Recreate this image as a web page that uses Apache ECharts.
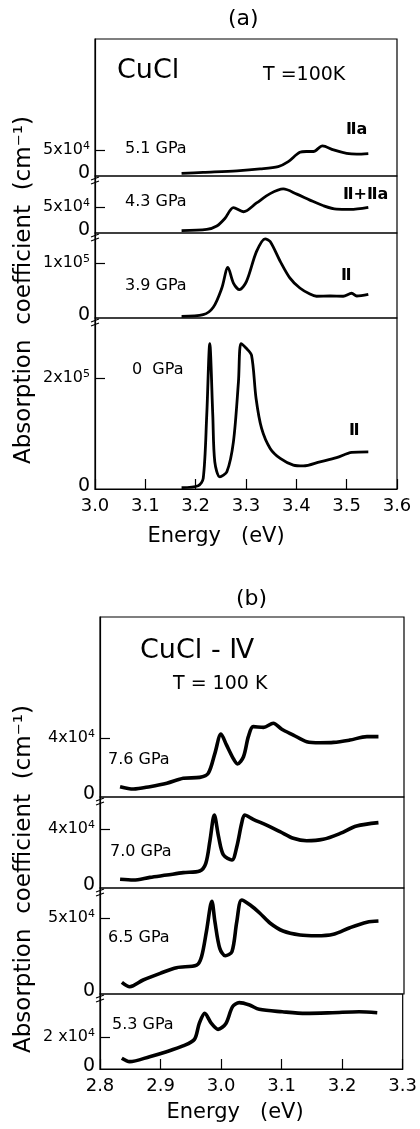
<!DOCTYPE html>
<html><head><meta charset="utf-8">
<script src="https://cdn.jsdelivr.net/npm/echarts@6/dist/echarts.min.js"></script>
<style>html,body{margin:0;padding:0;background:#fff}#c{width:420px;height:1129px}</style>
</head><body><div id="c"></div>
<script>
// ---- data (absorption coefficient in units of 10^4 cm^-1, energy in eV) ----
const E_51 = [3.172,3.215,3.282,3.328,3.364,3.384,3.407,3.420,3.434,3.452,3.474,3.500,3.520,3.543];
const A_51 = [0.5,0.7,1.0,1.35,1.8,2.75,4.55,4.7,4.7,5.8,5.0,4.35,4.2,4.3];
const E_43 = [3.172,3.222,3.242,3.258,3.275,3.295,3.321,3.348,3.374,3.401,3.427,3.454,3.480,3.507,3.543];
const A_43 = [0.45,0.7,1.35,2.8,4.9,4.1,5.8,7.6,8.5,7.5,6.35,5.25,4.6,4.55,4.95];
const E_39 = [3.172,3.215,3.235,3.252,3.264,3.275,3.287,3.301,3.321,3.338,3.348,3.368,3.387,3.407,3.427,3.440,3.467,3.493,3.510,3.520,3.543];
const A_39 = [0.3,0.6,1.95,5.45,9.2,6.35,5.15,6.65,12.1,14.4,13.9,10.3,7.3,5.45,4.35,3.95,4.0,3.95,4.5,4.0,4.3];
const E_0 = [3.172,3.205,3.215,3.222,3.228,3.234,3.238,3.248,3.262,3.275,3.285,3.290,3.300,3.311,3.320,3.331,3.348,3.368,3.394,3.414,3.447,3.480,3.510,3.543];
const A_0 = [0.25,0.6,1.9,13.3,26.2,13.3,4.9,2.2,3.1,8.5,19.3,26.2,25.4,24.1,16.3,10.9,7.3,5.5,4.3,4.15,4.9,5.65,6.6,6.7];

const E_76 = [2.833,2.855,2.882,2.910,2.937,2.964,2.978,2.989,2.999,3.008,3.019,3.026,3.036,3.044,3.052,3.069,3.085,3.099,3.118,3.140,3.162,3.184,3.211,3.239,3.258];
const A_76 = [0.7,0.54,0.7,0.93,1.27,1.33,1.6,2.96,4.27,3.53,2.62,2.24,2.73,4.09,4.77,4.72,5.0,4.59,4.2,3.75,3.68,3.7,3.86,4.09,4.09];
const E_70 = [2.833,2.855,2.882,2.910,2.937,2.964,2.974,2.981,2.988,2.995,3.003,3.017,3.025,3.033,3.038,3.052,3.074,3.096,3.118,3.140,3.167,3.195,3.222,3.258];
const A_70 = [0.59,0.54,0.72,0.88,1.04,1.15,1.67,3.25,4.95,3.48,2.24,1.9,2.8,4.39,4.95,4.66,4.27,3.82,3.37,3.2,3.3,3.7,4.2,4.43];
const E_65 = [2.836,2.849,2.871,2.899,2.926,2.959,2.967,2.975,2.984,2.989,2.997,3.006,3.017,3.025,3.033,3.047,3.063,3.080,3.101,3.129,3.156,3.184,3.211,3.239,3.258];
const A_65 = [0.77,0.48,0.92,1.36,1.73,1.9,2.45,4.1,6.1,4.76,3.0,2.52,2.78,4.76,6.18,5.85,5.31,4.65,4.14,3.88,3.83,3.93,4.36,4.72,4.8];
const E_53 = [2.836,2.849,2.882,2.910,2.937,2.956,2.964,2.973,2.984,2.995,3.008,3.019,3.030,3.047,3.063,3.101,3.140,3.184,3.228,3.258];
const A_53 = [0.67,0.46,0.77,1.08,1.44,1.85,2.85,3.48,2.85,2.48,2.85,3.9,4.15,4.0,3.73,3.58,3.48,3.52,3.58,3.52];

const pressures = ['5.1 GPa','4.3 GPa','3.9 GPa','0  GPa','7.6 GPa','7.0 GPa','6.5 GPa','5.3 GPa'];
const phases = ['Ⅱa','Ⅱ+Ⅱa','Ⅱ','Ⅱ','','','',''];
const yTick = [5,5,10,20,4,4,5,2];
const yTickText = ['{n|5x10}{s|4}','{n|5x10}{s|4}','{n|1x10}{s|5}','{n|2x10}{s|5}','{n|4x10}{s|4}','{n|4x10}{s|4}','{n|5x10}{s|4}','{n|2 x10}{s|4}'];
const yMax = [26.3,11.0,15.45,30.8,12.2,6.17,6.97,4.69];
const xRangeA = [3.0,3.6], xRangeB = [2.8,3.3];

// ---- layout ----
const layout = [
  {left:95, width:302, top:39,  height:137, x:xRangeA, last:false, px:[125,150], ph:[358,131]},
  {left:95, width:302, top:176, height:57,  x:xRangeA, last:false, px:[125,203], ph:[355,196]},
  {left:95, width:302, top:233, height:85,  x:xRangeA, last:false, px:[125,287], ph:[353,277]},
  {left:95, width:302, top:318, height:171, x:xRangeA, last:true,  px:[132,371], ph:[361,432]},
  {left:100,width:304, top:617, height:180, x:xRangeB, last:false, px:[108,761]},
  {left:100,width:304, top:797, height:91,  x:xRangeB, last:false, px:[110,853]},
  {left:100,width:304, top:888, height:106, x:xRangeB, last:false, px:[108,939]},
  {left:100,width:304, top:994, height:75,  x:xRangeB, last:true,  px:[112,1026]}
];
const seriesE = [E_51,E_43,E_39,E_0,E_76,E_70,E_65,E_53];
const seriesA = [A_51,A_43,A_39,A_0,A_76,A_70,A_65,A_53];

const FONT = '"DejaVu Sans", sans-serif';
const grid=[], xAxis=[], yAxis=[], series=[], graphic=[];
layout.forEach((L,i)=>{
  grid.push({left:L.left, width:L.width, top:L.top, height:L.height, show:true, borderColor:'#000', borderWidth:1.2, backgroundColor:'transparent'});
  xAxis.push({type:'value', gridIndex:i, min:L.x[0], max:L.x[1], interval:0.1,
    axisLine:{show:L.last, lineStyle:{color:'#000', width:1.2}},
    axisTick:{show:L.last, inside:true, length:10, lineStyle:{color:'#000', width:1.2}},
    axisLabel:{show:L.last, color:'#000', fontSize:18, fontFamily:FONT, margin:8, formatter:v=>v.toFixed(1)},
    splitLine:{show:false}});
  yAxis.push({type:'value', gridIndex:i, min:0, max:yMax[i],
    axisLine:{show:true, lineStyle:{color:'#000', width:1.2}},
    axisTick:{show:true, inside:true, length:10, customValues:[yTick[i]], lineStyle:{color:'#000', width:1.2}},
    axisLabel:{show:true, customValues:[0, yTick[i]], margin:5, color:'#000', fontSize:16, fontFamily:FONT,
      formatter:v=> v===0 ? '{z|0}' : yTickText[i],
      rich:{n:{fontSize:16, fontFamily:FONT, color:'#000'},
            s:{fontSize:11, fontFamily:FONT, color:'#000', verticalAlign:'top', padding:[0,0,7,0]},
            z:{fontSize:19, fontFamily:FONT, color:'#000', padding:[0,0,6,0]}}},
    splitLine:{show:false}});
  series.push({type:'line', xAxisIndex:i, yAxisIndex:i, showSymbol:false, smooth:0.3, silent:true,
    lineStyle:{color:'#000', width: i<4 ? 2.8 : 3.6}, data: seriesE[i].map((e,k)=>[e, seriesA[i][k]])});
  graphic.push({type:'text', left:L.px[0], top:L.px[1]-9, style:{text:pressures[i], font:'16px '+FONT, fill:'#000'}});
  if (phases[i]) graphic.push({type:'text', left:L.ph[0]-12, top:L.ph[1]-9, style:{text:phases[i], font:'bold 16px '+FONT, fill:'#000'}});
  // axis-break marks below each inner boundary
  if (i!==0 && i!==4) {
    [0,4].forEach(d=>graphic.push({type:'line', shape:{x1:L.left-4, y1:L.top+4+d, x2:L.left+4, y2:L.top+1+d}, style:{stroke:'#000', lineWidth:1.2}}));
  }
});

graphic.push(
  {type:'text', left:228, top:8, style:{text:'(a)', font:'22px '+FONT, fill:'#000'}},
  {type:'text', left:236, top:588, style:{text:'(b)', font:'22px '+FONT, fill:'#000'}},
  {type:'text', left:117, top:57, style:{text:'CuCl', font:'27px '+FONT, fill:'#000'}},
  {type:'text', left:263, top:66, style:{text:'T =100K', font:'19px '+FONT, fill:'#000'}},
  {type:'text', left:140, top:637, style:{text:'CuCl - Ⅳ', font:'27px '+FONT, fill:'#000'}},
  {type:'text', left:173, top:675, style:{text:'T = 100 K', font:'19px '+FONT, fill:'#000'}},
  {type:'text', x:216, y:537, style:{text:'Energy   (eV)', font:'21px '+FONT, fill:'#000', textAlign:'center', textVerticalAlign:'middle'}},
  {type:'text', x:235, y:1113, style:{text:'Energy   (eV)', font:'21px '+FONT, fill:'#000', textAlign:'center', textVerticalAlign:'middle'}},
  {type:'text', x:24, y:290, rotation:Math.PI/2, style:{text:'Absorption  coefficient  (cm⁻¹)', font:'23px '+FONT, fill:'#000', textAlign:'center', textVerticalAlign:'middle'}},
  {type:'text', x:24, y:879, rotation:Math.PI/2, style:{text:'Absorption  coefficient  (cm⁻¹)', font:'23px '+FONT, fill:'#000', textAlign:'center', textVerticalAlign:'middle'}}
);

const chart = echarts.init(document.getElementById('c'), null, {renderer:'canvas'});
chart.setOption({backgroundColor:'#fff', animation:false, grid, xAxis, yAxis, series, graphic});
</script></body></html>
